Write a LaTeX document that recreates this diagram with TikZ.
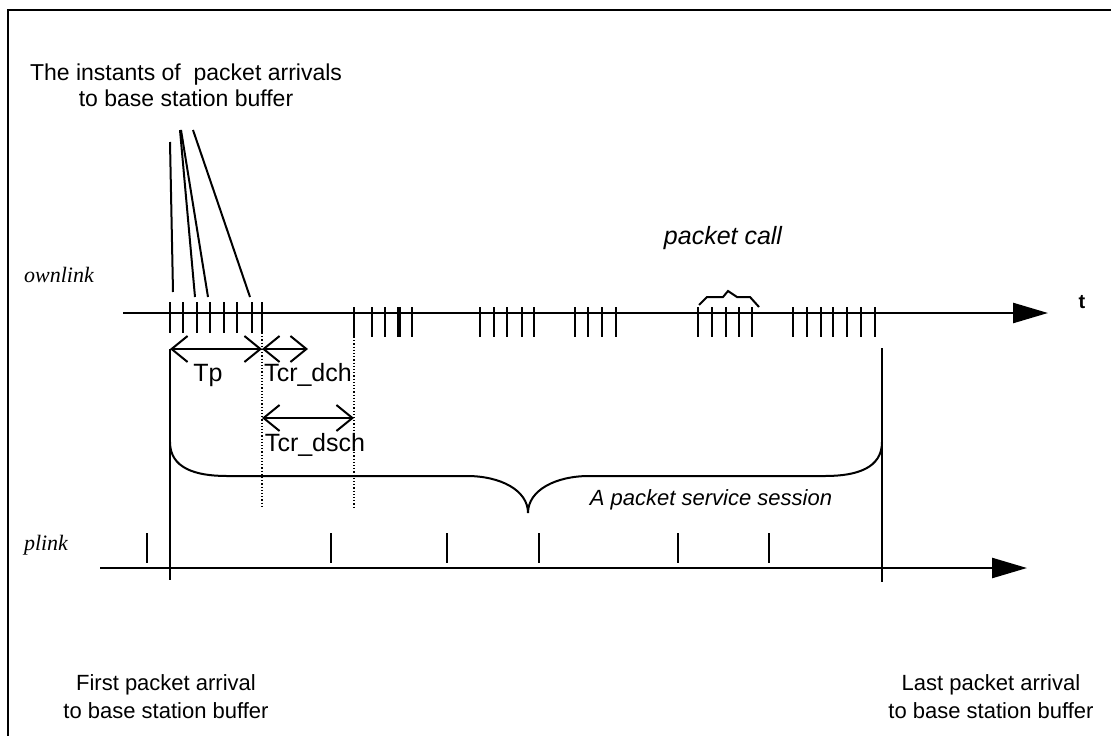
\documentclass[tikz,border=0pt]{standalone}
\usepackage{fontspec}
\setmainfont{Liberation Sans}
\newfontfamily\timesfont{Liberation Serif}
\usetikzlibrary{arrows.meta}

\begin{document}
\begin{tikzpicture}[x=1pt,y=-1pt,
    axis/.style={line width=2.5pt,-{Triangle[length=35pt,width=20pt]}},
    tick/.style={line width=2.5pt},
    span/.style={line width=2pt,{Straight Barb[length=16pt,width=26pt]}-{Straight Barb[length=16pt,width=26pt]}},
    txt/.style={inner sep=0pt,align=center,font=\fontsize{23}{26}\selectfont},
    linklbl/.style={inner sep=0pt,font=\timesfont\itshape\fontsize{22}{26}\selectfont}]
    \useasboundingbox (0,0) rectangle (1111,736);
    \draw[line width=2pt] (8,760) -- (8,10) -- (1140,10);

    % ownlink time axis
    \node[linklbl] (own) at (59,275) {ownlink};
    \draw[axis] (123,313) -- (1048,313);
    \node[inner sep=0pt,font=\bfseries\fontsize{20}{24}\selectfont] (t) at (1082,302) {t};
    \foreach \x in {170,183,197,210,224,237,252,262}
        \draw[tick] (\x,302) -- (\x,333);
    \foreach \x in {354,372,385,412,480,494,507,522,534,575,588,602,616,
                    698,712,726,739,752,793,807,821,833,847,861,875}
        \draw[tick] (\x,307) -- (\x,337);
    \draw[line width=4pt] (399,307) -- (399,337);

    % arrival instants
    \node[txt] (arrivals) at (186,85) {The instants of \ packet arrivals\\to base station buffer};
    \draw[line width=2pt] (170,142) -- (173,292);
    \draw[line width=2pt] (180,130) -- (195,297);
    \draw[line width=2pt] (181,130) -- (208,297);
    \draw[line width=2pt] (193,130) -- (250,297);

    % packet call
    \node[inner sep=0pt,font=\itshape\fontsize{25}{30}\selectfont] (call) at (723,238) {packet call};
    \draw[line width=2pt] (699,305) -- (707,297) -- (723,297) -- (728,291)
        -- (737,297) -- (750,297) -- (759,307);

    % delays
    \draw[span] (170,349) -- (262,349);
    \draw[span] (262,349) -- (308,349);
    \draw[span] (262,418) -- (354,418);
    \node[inner sep=0pt,font=\fontsize{25}{30}\selectfont] (tp) at (208,375) {Tp};
    \node[inner sep=0pt,font=\fontsize{25}{30}\selectfont] (tcrdch) at (308,375) {Tcr\_dch};
    \node[inner sep=0pt,font=\fontsize{25}{30}\selectfont] (tcrdsch) at (315,445) {Tcr\_dsch};
    \draw[line width=1.2pt,dash pattern=on 1.2pt off 2pt] (262,333) -- (262,507);
    \draw[line width=1.2pt,dash pattern=on 1.2pt off 2pt] (354,337) -- (354,507);

    % session
    \draw[line width=2.5pt] (170,349) -- (170,580);
    \draw[line width=2.5pt] (882,348) -- (882,582);
    \draw[line width=2pt] (170,442) .. controls (170,468) and (195,476) .. (227,476)
        -- (467,476) .. controls (500,476) and (528,490) .. (528,513)
        .. controls (528,490) and (556,476) .. (589,476)
        -- (825,476) .. controls (857,476) and (882,468) .. (882,442);
    \node[inner sep=0pt,font=\itshape\fontsize{22}{26}\selectfont] (session) at (711,500) {A packet service session};

    % plink time axis
    \node[linklbl] (plink) at (46,545) {plink};
    \draw[axis] (100,568) -- (1027,568);
    \foreach \x in {147,331,447,539,678,769}
        \draw[tick] (\x,533) -- (\x,563);

    \node[txt,font=\fontsize{22}{28}\selectfont] (first) at (166,697) {First packet arrival\\to base station buffer};
    \node[txt,font=\fontsize{22}{28}\selectfont] (last) at (991,697) {Last packet arrival\\to base station buffer};
\end{tikzpicture}
\end{document}
